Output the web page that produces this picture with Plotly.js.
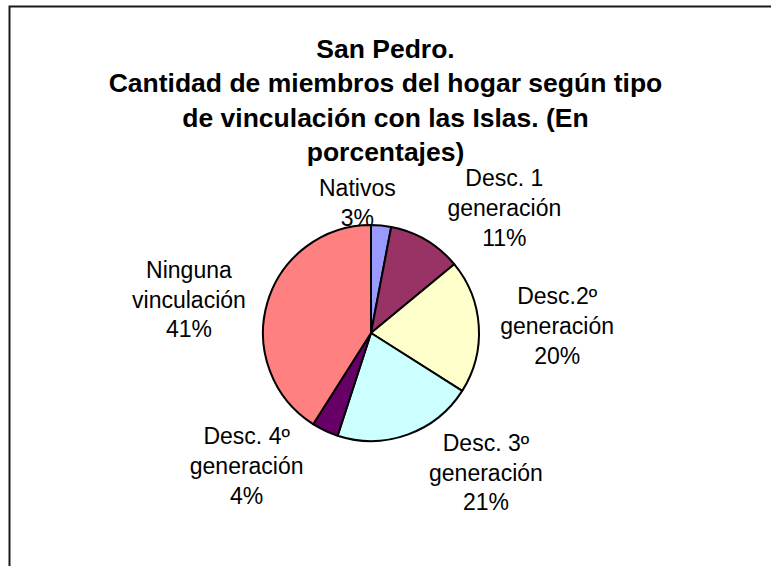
<!DOCTYPE html>
<html>
<head>
<meta charset="utf-8">
<script src="https://cdn.plot.ly/plotly-3.0.1.min.js"></script>
<style>
  html, body { margin: 0; padding: 0; background: #fff; }
  #chart { width: 771px; height: 566px; }
</style>
</head>
<body>
<div id="chart"></div>
<script>
const categories = [
  "Nativos",
  "Desc. 1<br>generación",
  "Desc.2º<br>generación",
  "Desc. 3º<br>generación",
  "Desc. 4º<br>generación",
  "Ninguna<br>vinculación"
];
const percentages = [3, 11, 20, 21, 4, 41];
const sliceColors = ["#9999FF", "#993366", "#FFFFCC", "#CCFFFF", "#660066", "#FF8080"];
const titleText = "San Pedro.<br>Cantidad de miembros del hogar según tipo<br>de vinculación con las Islas. (En<br>porcentajes)";

const W = 771, H = 566;
const FONT = "Liberation Sans, Arial, sans-serif";
const pieDomain = { x: [263 / W, 479 / W], y: [125 / H, 341 / H] };

// The first (tiny) slice gets its label placed above the pie, as in the original;
// the others use the pie's own outside labels.
const textPositions = categories.map((c, i) => (i === 0 ? "none" : "outside"));

const trace = {
  type: "pie",
  labels: categories,
  values: percentages,
  sort: false,
  direction: "clockwise",
  rotation: 0,
  marker: { colors: sliceColors, line: { color: "#000000", width: 2 } },
  textposition: textPositions,
  texttemplate: "%{label}<br>%{value}%",
  textfont: { family: FONT, size: 23, color: "#000000" },
  domain: pieDomain,
  hoverinfo: "none",
  showlegend: false
};

const layout = {
  width: W,
  height: H,
  margin: { l: 0, r: 0, t: 0, b: 0 },
  paper_bgcolor: "#ffffff",
  plot_bgcolor: "#ffffff",
  showlegend: false,
  title: {
    text: titleText,
    font: { family: FONT, size: 26.5, color: "#000000", weight: "bold" },
    x: 0.5,
    xanchor: "center",
    xref: "paper",
    y: 1 - 58 / H,
    yref: "container",
    yanchor: "top"
  },
  annotations: [
    {
      text: categories[0] + "<br>" + percentages[0] + "%",
      xref: "paper", yref: "paper",
      x: (pieDomain.x[0] + pieDomain.x[1]) / 2,
      y: pieDomain.y[1],
      xanchor: "center", yanchor: "bottom",
      xshift: -14, yshift: -8,
      showarrow: false,
      font: { family: FONT, size: 23, color: "#000000" }
    }
  ],
  shapes: [
    {
      type: "rect", xref: "paper", yref: "paper",
      x0: 9.5 / W, x1: 1.05, y0: -0.05, y1: 1 - 6.5 / H,
      line: { color: "#1a1a1a", width: 2 },
      fillcolor: "rgba(0,0,0,0)"
    }
  ]
};

Plotly.newPlot("chart", [trace], layout, { displayModeBar: false, staticPlot: true });
</script>
</body>
</html>
